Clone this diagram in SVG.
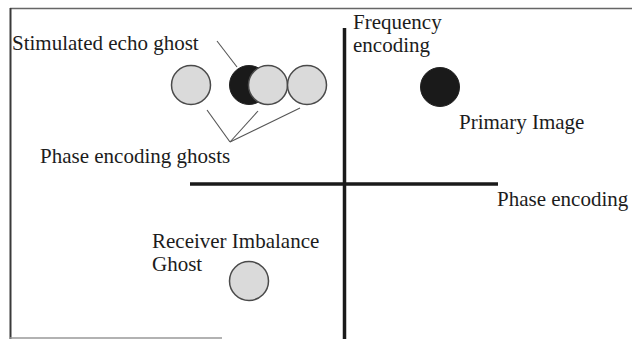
<svg xmlns="http://www.w3.org/2000/svg" width="632" height="339" viewBox="0 0 632 339">
  <style>
    .lbl { font-size: 21px; fill: #1c1c1c; }
    .ghost { fill: #dadada; stroke: #4a4a4a; stroke-width: 1.5; }
    .solid { fill: #1a1a1a; stroke: #222; stroke-width: 1; }
    .axis { stroke: #1a1a1a; stroke-width: 3.5; fill: none; }
    .ptr { stroke: #555; stroke-width: 1.1; fill: none; }
  </style>
  <rect width="632" height="339" fill="#ffffff"/>

  <!-- frame -->
  <g id="frame" fill="none">
    <line x1="10" y1="8.5" x2="632" y2="8.5" stroke="#666" stroke-width="1.6"/>
    <line x1="10.5" y1="8" x2="10.5" y2="339" stroke="#3a3a3a" stroke-width="2"/>
    <line x1="10" y1="338" x2="222" y2="338" stroke="#999" stroke-width="1.4"/>
  </g>

  <g font-family="Liberation Serif, serif">
  <!-- axes -->
  <g id="axes">
    <line class="axis" x1="344.5" y1="28" x2="344.5" y2="339"/>
    <line class="axis" x1="190" y1="184" x2="498" y2="184"/>
    <text class="lbl" x="353" y="29">Frequency</text>
    <text class="lbl" x="353" y="52">encoding</text>
    <text class="lbl" x="497" y="206">Phase encoding</text>
  </g>

  <!-- connectors -->
  <g id="connectors">
    <line class="ptr" x1="217" y1="41" x2="237" y2="67"/>
    <line class="ptr" x1="207" y1="110" x2="230" y2="142"/>
    <line class="ptr" x1="258" y1="111" x2="230" y2="142"/>
    <line class="ptr" x1="300" y1="108" x2="230" y2="142"/>
  </g>

  <!-- ghost cluster -->
  <g id="phase-ghost-left">
    <circle class="ghost" cx="191" cy="85" r="19.5"/>
  </g>
  <g id="stimulated-echo-ghost">
    <circle class="solid" cx="249" cy="85" r="19.5"/>
    <text class="lbl" x="12" y="50">Stimulated echo ghost</text>
  </g>
  <g id="phase-ghost-middle">
    <circle class="ghost" cx="268" cy="85" r="19.5"/>
  </g>
  <g id="phase-ghost-right">
    <circle class="ghost" cx="307" cy="85" r="19.5"/>
  </g>
  <g id="phase-ghosts-label">
    <text class="lbl" x="40" y="163">Phase encoding ghosts</text>
  </g>

  <!-- primary image -->
  <g id="primary-image">
    <circle class="solid" cx="440" cy="87" r="19.5"/>
    <text class="lbl" x="459" y="129">Primary Image</text>
  </g>

  <!-- receiver imbalance ghost -->
  <g id="receiver-ghost">
    <circle class="ghost" cx="249" cy="281" r="19.5"/>
    <text class="lbl" x="152" y="248">Receiver Imbalance</text>
    <text class="lbl" x="152" y="271">Ghost</text>
  </g>
  </g>
</svg>
